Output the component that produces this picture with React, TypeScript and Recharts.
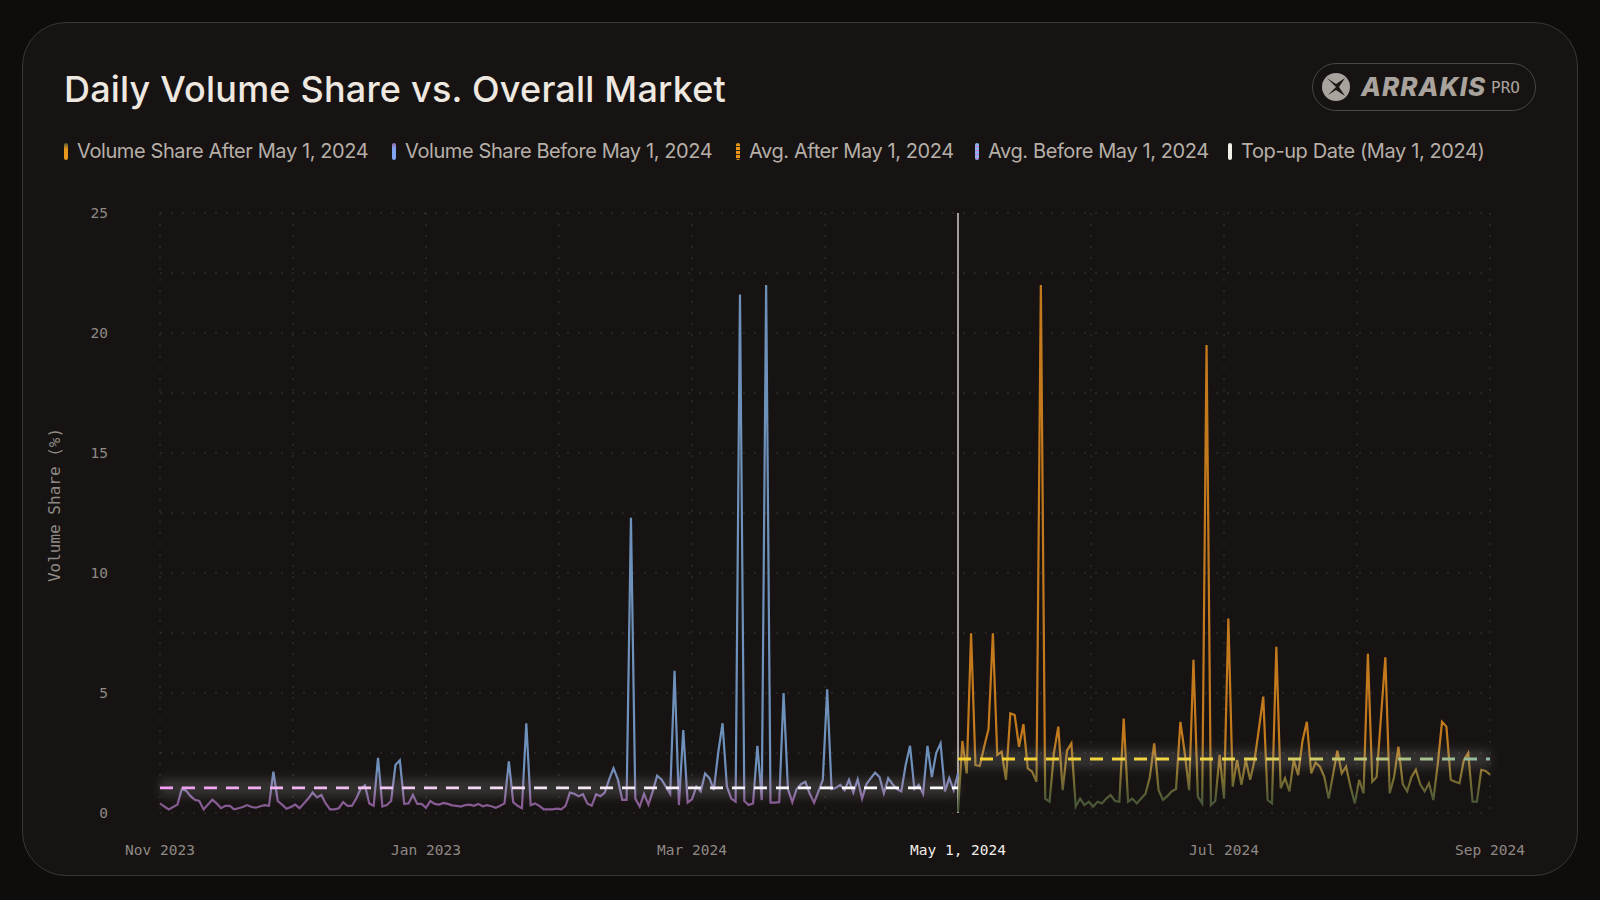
import React from "react";
import { LineChart, Line, XAxis, YAxis, CartesianGrid, ReferenceLine } from "recharts";

const xTickDays = [0, 61, 122, 183, 244, 305];
const xTickLabels = ["Nov 2023", "Jan 2023", "Mar 2024", "May 1, 2024", "Jul 2024", "Sep 2024"];
const yTicks = [0, 5, 10, 15, 20, 25];
const topUpDay = 183;
const avgBeforeValue = 1.05;
const avgAfterValue = 2.25;

// daily volume share (%) from Nov 1 2023 to May 1 2024
const volumeBefore = [
  0.4, 0.27, 0.15, 0.25, 0.35, 1.0, 0.93, 0.7, 0.55, 0.5,
  0.15, 0.35, 0.55, 0.4, 0.2, 0.3, 0.3, 0.15, 0.2, 0.25,
  0.33, 0.25, 0.22, 0.28, 0.33, 0.3, 1.72, 0.5, 0.35, 0.18,
  0.25, 0.35, 0.2, 0.4, 0.6, 0.85, 0.65, 0.75, 0.4, 0.15,
  0.15, 0.2, 0.45, 0.3, 0.3, 0.6, 1.0, 1.15, 0.4, 0.3,
  2.3, 0.27, 0.33, 0.5, 2.0, 2.2, 0.38, 0.4, 0.75, 0.38,
  0.38, 0.22, 0.5, 0.38, 0.35, 0.42, 0.38, 0.32, 0.3, 0.27,
  0.33, 0.35, 0.3, 0.38, 0.28, 0.33, 0.28, 0.22, 0.3, 0.4,
  2.15, 0.45, 0.3, 0.2, 3.74, 0.33, 0.4, 0.3, 0.15, 0.15,
  0.15, 0.18, 0.15, 0.3, 0.85, 0.8, 0.7, 0.78, 0.4, 0.3,
  0.78, 0.7, 0.85, 1.4, 1.86, 1.4, 0.55, 0.55, 12.3, 0.6,
  0.27, 0.8, 0.35, 0.9, 1.55, 1.4, 1.1, 0.8, 5.93, 0.33,
  3.46, 0.43, 0.57, 1.1, 0.9, 1.65, 1.45, 0.95, 2.5, 3.74,
  1.1, 0.6, 0.47, 21.6, 0.5, 0.33, 0.4, 2.8, 0.54, 22.0,
  0.43, 0.43, 0.45, 5.0, 1.0, 0.45, 1.0, 1.2, 1.3, 0.8,
  0.43, 0.9, 1.38, 5.15, 1.0, 1.05, 1.17, 0.95, 1.38, 0.85,
  1.4, 0.6, 1.2, 1.45, 1.68, 1.5, 0.82, 1.45, 1.2, 1.0,
  0.9, 2.0, 2.8, 1.0, 1.17, 0.8, 2.8, 1.5, 2.5, 2.9,
  0.9, 1.45, 0.95, 1.65,
];

// daily volume share (%) from May 1 2024 to Sep 1 2024
const volumeAfter = [
  0.05, 3.0, 1.65, 7.49, 2.0, 1.96, 2.76, 3.5, 7.49, 2.42,
  2.55, 1.38, 4.15, 4.08, 2.76, 3.7, 1.86, 1.72, 1.3, 22.0,
  0.6, 0.47, 2.5, 3.6, 0.95, 2.6, 2.9, 0.27, 0.6, 0.33,
  0.47, 0.27, 0.47, 0.4, 0.6, 0.75, 0.5, 0.47, 3.93, 0.47,
  0.6, 0.4, 0.6, 0.8, 1.5, 2.9, 0.95, 0.54, 0.7, 0.9,
  1.0, 3.8, 2.5, 0.95, 6.38, 0.68, 0.4, 19.5, 0.33, 0.5,
  2.42, 0.6, 8.1, 1.1, 2.21, 1.17, 2.21, 1.38, 2.2, 3.5,
  4.85, 0.54, 0.4, 6.93, 1.03, 1.45, 0.9, 2.21, 1.58, 3.0,
  3.8, 1.65, 2.1, 1.93, 1.51, 0.6, 1.6, 2.6, 1.65, 1.93,
  1.1, 0.4, 1.38, 0.82, 6.63, 1.3, 1.5, 4.0, 6.49, 0.82,
  1.5, 2.76, 1.2, 0.9, 1.5, 1.8, 1.2, 0.9, 1.24, 0.54,
  2.0, 3.8, 3.6, 1.38, 1.3, 1.24, 2.2, 2.5, 0.47, 0.47,
  1.8, 1.75, 1.6,
];

const totalDays = 305;
const rows: any[] = [];
for (let d = 0; d <= totalDays; d++) {
  const r: any = { d };
  if (d < volumeBefore.length) {
    r.before = volumeBefore[d];
    r.avgBefore = avgBeforeValue;
  }
  if (d >= topUpDay && d - topUpDay < volumeAfter.length) {
    r.after = volumeAfter[d - topUpDay];
  }
  if (d >= topUpDay) r.avgAfter = avgAfterValue;
  rows.push(r);
}

const gridX = Array.from({ length: 11 }, (_, i) => i * 30.5);
const gridY = Array.from({ length: 11 }, (_, i) => i * 2.5);

const mono = "'DejaVu Sans Mono', monospace";

const XTick = (props: any) => {
  const { x, y, payload } = props;
  const idx = xTickDays.indexOf(payload.value);
  const label = xTickLabels[idx] ?? "";
  return (
    <text x={x} y={y + 14} textAnchor="middle" fontFamily={mono} fontSize={14.5}
      fill={payload.value === topUpDay ? "#f2eee9" : "#8f8a85"}>
      {label}
    </text>
  );
};

const legendItems = [
  { label: "Volume Share After May 1, 2024", left: 64, kind: "afterLine" },
  { label: "Volume Share Before May 1, 2024", left: 392, kind: "beforeLine" },
  { label: "Avg. After May 1, 2024", left: 736, kind: "afterAvg" },
  { label: "Avg. Before May 1, 2024", left: 975, kind: "beforeAvg" },
  { label: "Top-up Date (May 1, 2024)", left: 1228, kind: "top" },
];

const markerBg: Record<string, string> = {
  afterLine: "linear-gradient(#4d5a38 0%, #e8961e 35%, #e8961e 100%)",
  beforeLine: "linear-gradient(#9a6aa8 0%, #7fa5f0 35%, #7fa5f0 100%)",
  afterAvg: "repeating-linear-gradient(#e8961e 0px, #e8961e 3px, #3a2a10 3px, #3a2a10 4px)",
  beforeAvg: "repeating-linear-gradient(#8fb0f0 0px, #8fb0f0 3px, #c07ad0 3px, #c07ad0 4px)",
  top: "#f3efe9",
};

export default function App() {
  return (
    <div style={{ position: "absolute", left: 0, top: 0, width: 1600, height: 900, background: "#0f0d0c", overflow: "hidden" }}>
      <div style={{ position: "absolute", left: 22, top: 22, width: 1554, height: 852, borderRadius: 44, border: "1.5px solid #3b3735", background: "#161312" }} />
      <div style={{ position: "absolute", left: 64, top: 67, fontFamily: "Inter, sans-serif", fontWeight: 500, fontSize: 36, color: "#eee8e1", letterSpacing: 0.2, whiteSpace: "nowrap" }}>
        Daily Volume Share vs. Overall Market
      </div>
      {legendItems.map((it) => (
        <div key={it.label} style={{ position: "absolute", left: it.left, top: 139, height: 24, display: "flex", alignItems: "center", whiteSpace: "nowrap" }}>
          <div style={{ width: 4, height: 17, borderRadius: 2, background: markerBg[it.kind], marginRight: 9 }} />
          <span style={{ fontFamily: "Inter, sans-serif", fontSize: 20, color: "#b6afa8", letterSpacing: -0.4 }}>{it.label}</span>
        </div>
      ))}
      <div style={{ position: "absolute", left: 1312, top: 63, width: 222, height: 46, borderRadius: 24, border: "1.5px solid #4a4643" }}>
        <svg width={222} height={46} style={{ position: "absolute", left: 0, top: 0 }}>
          <circle cx={23} cy={23} r={14} fill="#a9a39d" />
          <path d="M23 23 L14 14 L23 20 L32 14 L26 23 L32 32 L23 26 L15 31 Z" fill="#1a1716" />
          <text x={48} y={32} fontFamily="Inter, sans-serif" fontWeight={800} fontStyle="italic" fontSize={26} fill="#a9a39d" letterSpacing={1}>ARRAKIS</text>
          <text x={178} y={29} fontFamily={mono} fontSize={16} fill="#a9a39d">PRO</text>
        </svg>
      </div>
      <div style={{ position: "absolute", left: 0, top: 0 }}>
        <LineChart width={1600} height={900} data={rows} margin={{ top: 213, right: 110, bottom: 47, left: 100 }}>
          <defs>
            <linearGradient id="gBefore" x1="0" y1="0" x2="0" y2="1">
              <stop offset="0" stopColor="#6e91bb" />
              <stop offset="0.925" stopColor="#6e91bb" />
              <stop offset="0.985" stopColor="#865a92" />
              <stop offset="1" stopColor="#865a92" />
            </linearGradient>
            <linearGradient id="gAfter" x1="0" y1="0" x2="0" y2="1">
              <stop offset="0" stopColor="#c47a1c" />
              <stop offset="0.86" stopColor="#c47a1c" />
              <stop offset="0.93" stopColor="#857230" />
              <stop offset="0.98" stopColor="#4a5838" />
              <stop offset="1" stopColor="#4a5838" />
            </linearGradient>
            <linearGradient id="gAvgBefore" gradientUnits="userSpaceOnUse" x1="160" y1="0" x2="958" y2="0">
              <stop offset="0" stopColor="#f29cf2" />
              <stop offset="0.5" stopColor="#f3e6f3" />
              <stop offset="1" stopColor="#ffffff" />
            </linearGradient>
            <linearGradient id="gAvgAfter" gradientUnits="userSpaceOnUse" x1="958" y1="0" x2="1490" y2="0">
              <stop offset="0" stopColor="#f7d02a" />
              <stop offset="0.5" stopColor="#eed64a" />
              <stop offset="1" stopColor="#8fb8a2" />
            </linearGradient>
            <filter id="blur" filterUnits="userSpaceOnUse" x="0" y="0" width="1600" height="900">
              <feGaussianBlur stdDeviation="5" />
            </filter>
          </defs>
          <CartesianGrid stroke="#3b3735" strokeDasharray="2 9" horizontalValues={gridY} verticalValues={gridX} />
          <XAxis dataKey="d" type="number" domain={[0, totalDays]} ticks={xTickDays} tick={<XTick />} tickLine={false} axisLine={false} tickMargin={22} height={40} interval={0} />
          <YAxis type="number" domain={[0, 25]} ticks={yTicks} tickLine={false} axisLine={false} tickMargin={46} width={60}
            tick={{ fontFamily: mono, fontSize: 14.5, fill: "#8f8a85" }}
            label={{ value: "Volume Share (%)", angle: -90, position: "insideLeft", offset: -46, dy: -8, style: { fontFamily: mono, fontSize: 16, fill: "#8f8a85", textAnchor: "middle" } }} />
          <ReferenceLine x={topUpDay} stroke="#d2cdc7" strokeWidth={1.5} />
          <Line dataKey="before" stroke="url(#gBefore)" strokeWidth={2.2} dot={false} activeDot={false} isAnimationActive={false} connectNulls={false} />
          <Line dataKey="after" stroke="url(#gAfter)" strokeWidth={2.2} dot={false} activeDot={false} isAnimationActive={false} connectNulls={false} />
          <Line dataKey="avgBefore" stroke="#ffffff" strokeOpacity={0.13} strokeWidth={18} filter="url(#blur)" dot={false} activeDot={false} isAnimationActive={false} />
          <Line dataKey="avgAfter" stroke="#ffffff" strokeOpacity={0.13} strokeWidth={18} filter="url(#blur)" dot={false} activeDot={false} isAnimationActive={false} />
          <Line dataKey="avgBefore" stroke="url(#gAvgBefore)" strokeWidth={2.8} strokeDasharray="13 9" dot={false} activeDot={false} isAnimationActive={false} />
          <Line dataKey="avgAfter" stroke="url(#gAvgAfter)" strokeWidth={2.8} strokeDasharray="13 9" dot={false} activeDot={false} isAnimationActive={false} />
        </LineChart>
      </div>
    </div>
  );
}
